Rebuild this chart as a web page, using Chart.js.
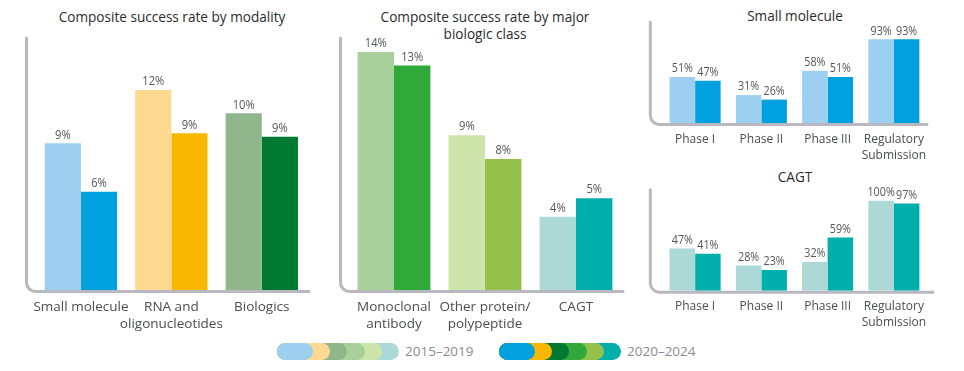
<!DOCTYPE html>
<html>
<head>
<meta charset="utf-8">
<script src="https://cdn.jsdelivr.net/npm/chart.js@4.4.1/dist/chart.umd.min.js"></script>
<style>
  body { margin: 0; background: #fff; width: 964px; height: 371px; overflow: hidden; position: relative; font-family: 'Open Sans', sans-serif; }
  canvas { position: absolute; }
  .title { position: absolute; text-align: center; color: #2b2b2d; font-size: 13.6px; line-height: 17px; }
  .legend { position: absolute; top: 343px; height: 17px; }
  .seg { position: absolute; top: 0; left: 0; height: 17px; border-radius: 8.5px; }
  .legtext { position: absolute; top: 342px; font-size: 13.5px; line-height: 19px; color: #8a8a94; }
</style>
</head>
<body>
<div class="title" style="left:22px;width:300px;top:7.5px">Composite success rate by modality</div>
<div class="title" style="left:335px;width:300px;top:7.5px">Composite success rate by major<br>biologic class</div>
<div class="title" style="left:695px;width:200px;top:7px">Small molecule</div>
<div class="title" style="left:695px;width:200px;top:167.5px">CAGT</div>

<canvas id="c1" width="320" height="340" style="left:0;top:0"></canvas>
<canvas id="c2" width="320" height="340" style="left:320px;top:0"></canvas>
<canvas id="c3" width="324" height="165" style="left:640px;top:0"></canvas>
<canvas id="c4" width="324" height="175" style="left:640px;top:165px"></canvas>

<div class="legend" id="leg1" style="left:277px;width:122px"></div>
<div class="legtext" style="left:405px">2015–2019</div>
<div class="legend" id="leg2" style="left:499px;width:122px"></div>
<div class="legtext" style="left:627px">2020–2024</div>

<script>
// --- data ---
const modalityCats = ['Small molecule', ['RNA and', 'oligonucleotides'], 'Biologics']
const modality2015 = [8.8, 12.0, 10.6]
const modality2020 = [5.9, 9.4, 9.2]
const modalityText2015 = ['9%', '12%', '10%']
const modalityText2020 = ['6%', '9%', '9%']

const biologicCats = [['Monoclonal', 'antibody'], ['Other protein/', 'polypeptide'], 'CAGT']
const biologic2015 = [14.0, 9.1, 4.3]
const biologic2020 = [13.2, 7.7, 5.4]
const biologicText2015 = ['14%', '9%', '4%']
const biologicText2020 = ['13%', '8%', '5%']

const phaseCats = ['Phase I', 'Phase II', 'Phase III', ['Regulatory', 'Submission']]
const smallMol2015 = [51, 31, 58, 93]
const smallMol2020 = [47, 26, 51, 93]
const cagt2015 = [47, 28, 32, 100]
const cagt2020 = [41, 23, 59, 97]

const legendLight = ['#9dd0f0', '#fdd992', '#8fb78b', '#a7d09a', '#cde4aa', '#acd8d6']
const legendDark = ['#00a1de', '#f8b800', '#007a33', '#30a83a', '#95c04c', '#00aeab']

Chart.defaults.font.family = "'Open Sans', sans-serif"

const cornerAxis = {
  id: 'cornerAxis',
  beforeDatasetsDraw(chart, args, opts) {
    const a = chart.chartArea
    const ctx = chart.ctx
    const x = a.left - opts.offset
    const y = a.bottom + 1.5
    const r = 9
    ctx.save()
    ctx.strokeStyle = '#b9b7bf'
    ctx.lineWidth = 3
    ctx.lineCap = 'round'
    ctx.beginPath()
    ctx.moveTo(x, a.top - 2)
    ctx.lineTo(x, y - r)
    ctx.arcTo(x, y, x + r, y, r)
    ctx.lineTo(a.right + opts.extend, y)
    ctx.stroke()
    ctx.restore()
  }
}

// percent labels above bars, a bit condensed like the original typeface
const valueLabels = {
  id: 'valueLabels',
  afterDatasetsDraw(chart, args, opts) {
    const ctx = chart.ctx
    const sx = 0.86
    ctx.save()
    ctx.font = opts.size + "px 'Open Sans', sans-serif"
    ctx.fillStyle = '#55565a'
    ctx.textAlign = 'center'
    ctx.textBaseline = 'bottom'
    ctx.scale(sx, 1)
    chart.data.datasets.forEach((ds, i) => {
      chart.getDatasetMeta(i).data.forEach((bar, j) => {
        let txt = ds.printed ? ds.printed[j] : ds.data[j] + '%'
        ctx.fillText(txt, bar.x / sx, bar.y - 2)
      })
    })
    ctx.restore()
  }
}

let makeChart = (id, cats, sets, cfg) => {
  return new Chart(document.getElementById(id), {
    type: 'bar',
    data: { labels: cats, datasets: sets },
    options: {
      responsive: false,
      animation: false,
      layout: { padding: cfg.padding },
      plugins: {
        legend: { display: false },
        tooltip: { enabled: false },
        cornerAxis: { offset: cfg.offset, extend: cfg.extend },
        valueLabels: { size: cfg.valueSize }
      },
      datasets: { bar: { categoryPercentage: cfg.barPct, barPercentage: 1, borderWidth: 0 } },
      scales: {
        x: {
          grid: { display: false, drawTicks: false },
          border: { display: false },
          ticks: {
            color: '#4c4d51',
            font: { size: cfg.tickSize, lineHeight: cfg.tickLine },
            padding: cfg.tickPad,
            maxRotation: 0,
            autoSkip: false
          },
          afterFit: (scale) => { scale.height = cfg.axisHeight }
        },
        y: { display: false, min: 0, max: cfg.max }
      }
    },
    plugins: [cornerAxis, valueLabels]
  })
}

makeChart('c1', modalityCats, [
  { data: modality2015, printed: modalityText2015, backgroundColor: ['#9dd0f0', '#fdd992', '#8fb78b'] },
  { data: modality2020, printed: modalityText2020, backgroundColor: ['#00a1de', '#f8b800', '#007a33'] }
], { padding: { left: 35.75, right: 13, top: 40, bottom: 0 }, offset: 9.25, extend: 2, barPct: 0.8,
     max: 15, axisHeight: 50, tickSize: 13.5, tickLine: 1.24, tickPad: 9, valueSize: 13 })

makeChart('c2', biologicCats, [
  { data: biologic2015, printed: biologicText2015, backgroundColor: ['#a7d09a', '#cde4aa', '#acd8d6'] },
  { data: biologic2020, printed: biologicText2020, backgroundColor: ['#30a83a', '#95c04c', '#00aeab'] }
], { padding: { left: 28.5, right: 18.5, top: 40, bottom: 0 }, offset: 8, extend: 1.5, barPct: 0.8,
     max: 14.7, axisHeight: 50, tickSize: 13.5, tickLine: 1.24, tickPad: 9, valueSize: 13 })

makeChart('c3', phaseCats, [
  { data: smallMol2015, backgroundColor: '#9dd0f0' },
  { data: smallMol2020, backgroundColor: '#00a1de' }
], { padding: { left: 22, right: 37, top: 24, bottom: 0 }, offset: 11.7, extend: 0, barPct: 0.77,
     max: 110, axisHeight: 42, tickSize: 12, tickLine: 1.35, tickPad: 8, valueSize: 12.5 })

makeChart('c4', phaseCats, [
  { data: cagt2015, backgroundColor: '#acd8d6' },
  { data: cagt2020, backgroundColor: '#00aeab' }
], { padding: { left: 22, right: 37, top: 26.7, bottom: 0 }, offset: 11.7, extend: 6, barPct: 0.77,
     max: 110, axisHeight: 49.3, tickSize: 12, tickLine: 1.35, tickPad: 8, valueSize: 12.5 })

// legend swatches
let buildLegend = (id, colors) => {
  let box = document.getElementById(id)
  colors.forEach((c, i) => {
    let seg = document.createElement('div')
    seg.className = 'seg'
    seg.style.width = (36 + i * 17.2) + 'px'
    seg.style.background = c
    seg.style.zIndex = 10 - i
    box.appendChild(seg)
  })
}
buildLegend('leg1', legendLight)
buildLegend('leg2', legendDark)
</script>
</body>
</html>
